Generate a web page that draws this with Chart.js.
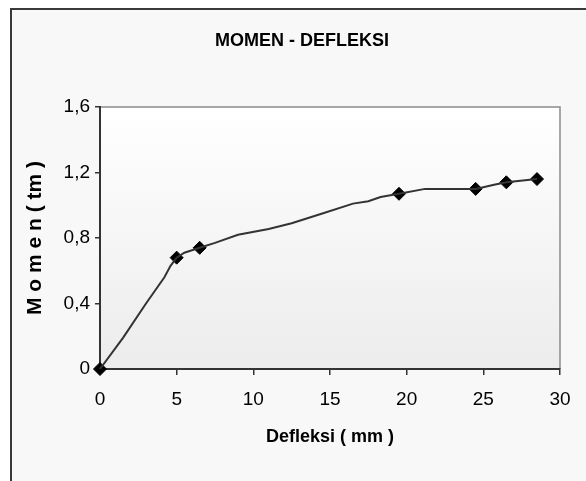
<!DOCTYPE html>
<html>
<head>
<meta charset="utf-8">
<script src="https://cdn.jsdelivr.net/npm/chart.js@4/dist/chart.umd.min.js"></script>
<style>
  html, body { margin: 0; padding: 0; background: #fff; }
  canvas { display: block; }
</style>
</head>
<body>
<canvas id="chart" width="586" height="481"></canvas>
<script>
// line through all measured points
const lineX = [0, 1.5, 3, 4.2, 4.6, 5, 5.5, 6.5, 7.5, 9, 11, 12.5, 14.5, 16.5, 17.5, 18.3, 19.5, 21.2, 24.5, 25.7, 26.5, 28.5];
const lineY = [0, 0.19, 0.40, 0.56, 0.63, 0.68, 0.71, 0.74, 0.77, 0.82, 0.855, 0.89, 0.95, 1.01, 1.025, 1.05, 1.07, 1.10, 1.10, 1.125, 1.14, 1.16];
// points shown with a diamond
const markX = [0, 5, 6.5, 19.5, 24.5, 26.5, 28.5];
const markY = [0, 0.68, 0.74, 1.07, 1.10, 1.14, 1.16];
const xTicks = [0, 5, 10, 15, 20, 25, 30];
const yTicks = [0, 0.4, 0.8, 1.2, 1.6];

const FONT = "'Liberation Sans', Arial, sans-serif";

const frame = {
  id: 'frame',
  beforeDraw(c) {
    const ctx = c.ctx, a = c.chartArea;
    ctx.save();
    ctx.fillStyle = '#fff';
    ctx.fillRect(0, 0, c.width, c.height);
    ctx.fillStyle = '#f8f8f8';
    ctx.fillRect(11, 9, c.width, c.height);
    ctx.strokeStyle = '#3a3a3a';
    ctx.lineWidth = 2;
    ctx.beginPath();
    ctx.moveTo(11, c.height);
    ctx.lineTo(11, 9);
    ctx.lineTo(c.width, 9);
    ctx.stroke();
    const g = ctx.createLinearGradient(0, a.top, 0, a.bottom);
    g.addColorStop(0, '#ffffff');
    g.addColorStop(1, '#ececec');
    ctx.fillStyle = g;
    ctx.fillRect(a.left, a.top, a.right - a.left, a.bottom - a.top);
    ctx.strokeStyle = '#8a8a8a';
    ctx.lineWidth = 1.5;
    ctx.beginPath();
    ctx.moveTo(a.left, a.top);
    ctx.lineTo(a.right, a.top);
    ctx.lineTo(a.right, a.bottom);
    ctx.stroke();
    ctx.restore();
  }
};

new Chart(document.getElementById('chart'), {
  type: 'scatter',
  data: {
    datasets: [
      {
        data: lineX.map((x, i) => ({ x, y: lineY[i] })),
        showLine: true,
        borderColor: '#333',
        borderWidth: 2,
        pointRadius: 0,
        tension: 0,
        clip: false
      },
      {
        data: markX.map((x, i) => ({ x, y: markY[i] })),
        showLine: false,
        pointStyle: 'rectRot',
        pointRadius: 6.5,
        pointBackgroundColor: '#000',
        pointBorderColor: '#000',
        pointBorderWidth: 1,
        clip: false
      }
    ]
  },
  options: {
    responsive: false,
    animation: false,
    devicePixelRatio: 1,
    layout: { padding: { left: 18, right: 0, top: 0, bottom: 0 } },
    plugins: {
      legend: { display: false },
      tooltip: { enabled: false },
      title: {
        display: true,
        text: 'MOMEN - DEFLEKSI',
        color: '#000',
        font: { family: FONT, size: 18, weight: 'bold', lineHeight: 1.2 },
        padding: { top: 30, bottom: 55.4 }
      }
    },
    scales: {
      x: {
        type: 'linear',
        min: 0, max: 30,
        afterBuildTicks: s => { s.ticks = xTicks.map(v => ({ value: v })); },
        afterFit: s => { s.height = 112; },
        grid: { drawOnChartArea: false, drawTicks: true, tickLength: 6, color: '#333', lineWidth: 1.5 },
        border: { display: true, color: '#333', width: 2 },
        ticks: { color: '#000', padding: 13, font: { family: FONT, size: 19 } },
        title: {
          display: true,
          text: 'Defleksi ( mm )',
          color: '#000',
          font: { family: FONT, size: 18, weight: 'bold', lineHeight: 1.2 },
          padding: { top: 0, bottom: 33 }
        }
      },
      y: {
        type: 'linear',
        min: 0, max: 1.6,
        afterBuildTicks: s => { s.ticks = yTicks.map(v => ({ value: v })); },
        afterFit: s => { s.width = 82; },
        grid: { drawOnChartArea: false, drawTicks: true, tickLength: 5, color: '#333', lineWidth: 1.5 },
        border: { display: true, color: '#333', width: 2 },
        ticks: {
          color: '#000', padding: 5, font: { family: FONT, size: 19 },
          callback: v => v === 0 ? '0' : v.toFixed(1).replace('.', ',')
        },
        title: {
          display: true,
          text: 'M o m e n ( tm )',
          color: '#000',
          font: { family: FONT, size: 21, weight: 'bold', lineHeight: 1.2 },
          padding: { top: 5, bottom: 0 }
        }
      },
      y2: {
        type: 'linear',
        position: 'right',
        display: true,
        afterFit: s => { s.width = 26; },
        grid: { display: false, drawTicks: false },
        border: { display: false },
        ticks: { display: false }
      }
    }
  },
  plugins: [frame]
});
</script>
</body>
</html>
